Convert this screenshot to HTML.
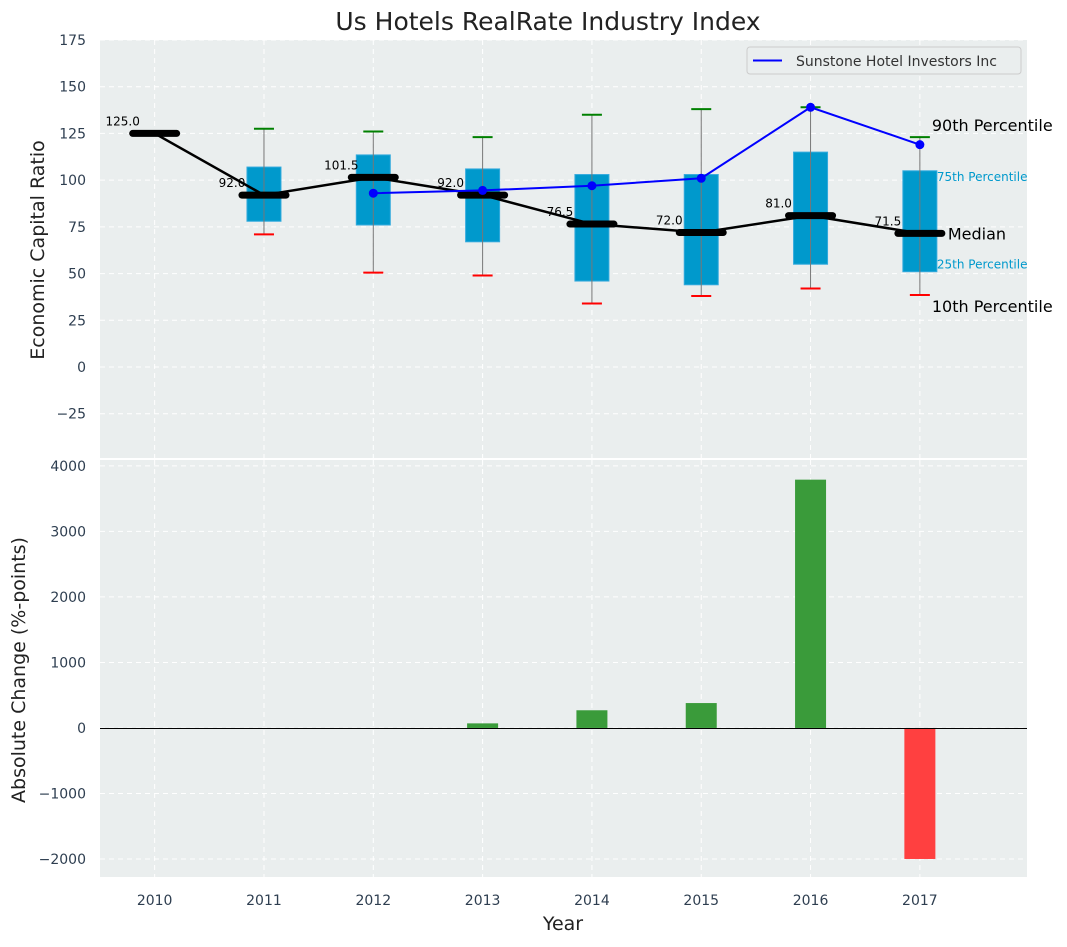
<!DOCTYPE html>
<html><head><meta charset="utf-8"><style>
body{margin:0;background:#fff;font-family:"Liberation Sans","DejaVu Sans",sans-serif;}
svg text{font-family:"DejaVu Sans","Liberation Sans",sans-serif;}
</style></head><body>
<svg id="c" width="1067" height="942" xmlns="http://www.w3.org/2000/svg"></svg>
<script>
const years=[2010,2011,2012,2013,2014,2015,2016,2017];
const medians=[125,92,101.5,92,76.5,72,81,71.5];
const p25=[null,78,76,67,46,44,55,51];
const p75=[null,107,113.5,106,103,103,115,105];
const p10=[null,71,50.5,49,34,38,42,38.5];
const p90=[null,127.5,126,123,135,138,139,123];
const sunYears=[2012,2013,2014,2015,2016,2017];
const sunVals=[93,94.5,97,101,139,119];
const barYears=[2013,2014,2015,2016,2017];
const barVals=[70,270,380,3790,-2000];
const topTicks=[-25,0,25,50,75,100,125,150,175];
const botTicks=[-2000,-1000,0,1000,2000,3000,4000];

const NS="http://www.w3.org/2000/svg";
const svg=document.getElementById('c');
function el(t,a,txt){const e=document.createElementNS(NS,t);for(const k in a)e.setAttribute(k,a[k]);if(txt!==undefined)e.textContent=txt;svg.appendChild(e);return e;}
const L=100,R=1027;
const x=v=>L+(v-2009.5)/(2017.98-2009.5)*(R-L);
const T0=40,T1=458,yT=v=>T0+(175-v)/(175-(-48.7))*(T1-T0);
const B0=460,B1=877,yB=v=>B0+(4090-v)/(4090-(-2275))*(B1-B0);

let e=el('rect',{x:L,y:T0,width:R-L,height:T1-T0,fill:'#eaeeee'});

e=el('rect',{x:L,y:B0,width:R-L,height:B1-B0,fill:'#eaeeee'});


years.forEach(yr=>{
  el('line',{x1:x(yr),x2:x(yr),y1:T0,y2:T1,stroke:'#fff','stroke-dasharray':'5,4','stroke-width':1});
  el('line',{x1:x(yr),x2:x(yr),y1:B0,y2:B1,stroke:'#fff','stroke-dasharray':'5,4','stroke-width':1});
  e=el('text',{x:x(yr),y:905,'text-anchor':'middle','font-size':14,fill:'#2e3e50'},yr);
  
});
topTicks.forEach(v=>{
  el('line',{x1:L,x2:R,y1:yT(v),y2:yT(v),stroke:'#fff','stroke-dasharray':'5,4'});
  e=el('text',{x:86,y:yT(v)+5,'text-anchor':'end','font-size':14,fill:'#2e3e50'},v<0?'\u2212'+(-v):v);
  
});
botTicks.forEach(v=>{
  el('line',{x1:L,x2:R,y1:yB(v),y2:yB(v),stroke:'#fff','stroke-dasharray':'5,4'});
  e=el('text',{x:86,y:yB(v)+5,'text-anchor':'end','font-size':14,fill:'#2e3e50'},v<0?'\u2212'+(-v):v);
  
});

years.forEach((yr,i)=>{
  const cx=x(yr);
  if(p25[i]!==null){
    e=el('rect',{x:cx-17,y:yT(p75[i]),width:34,height:yT(p25[i])-yT(p75[i]),fill:'#0099cc',stroke:'#33aadd','stroke-width':1});
    
    el('line',{x1:cx,x2:cx,y1:yT(p90[i]),y2:yT(p10[i]),stroke:'#777','stroke-width':1});
    el('line',{x1:cx-10,x2:cx+10,y1:yT(p90[i]),y2:yT(p90[i]),stroke:'green','stroke-width':2});
    el('line',{x1:cx-10,x2:cx+10,y1:yT(p10[i]),y2:yT(p10[i]),stroke:'red','stroke-width':2});
  }
});
e=el('polyline',{points:years.map((yr,i)=>x(yr)+','+yT(medians[i])).join(' '),fill:'none',stroke:'#000','stroke-width':2.5});

years.forEach((yr,i)=>{
  const cx=x(yr);
  e=el('line',{x1:cx-22,x2:cx+22,y1:yT(medians[i]),y2:yT(medians[i]),stroke:'#000','stroke-width':7,'stroke-linecap':'round'});
  
  e=el('text',{x:cx-32,y:yT(medians[i])-8,'text-anchor':'middle','font-size':12,fill:'#000'},medians[i].toFixed(1));
  
});
e=el('polyline',{points:sunYears.map((yr,i)=>x(yr)+','+yT(sunVals[i])).join(' '),fill:'none',stroke:'#0000ff','stroke-width':2});

sunYears.forEach((yr,i)=>{
  e=el('circle',{cx:x(yr),cy:yT(sunVals[i]),r:4.5,fill:'#0000ff'});
  
});
const lx=x(2017);
[['90th Percentile',p90[7],12,-6,16,'#000','percentile-90-label'],['75th Percentile',p75[7],17,10,12,'#0099cc','percentile-75-label'],['Median',medians[7],28,6,16,'#000','median-annotation'],['25th Percentile',p25[7],17,-3,12,'#0099cc','percentile-25-label'],['10th Percentile',p10[7],12,17,16,'#000','percentile-10-label']].forEach(a=>{
  e=el('text',{x:lx+a[2],y:yT(a[1])+a[3],'font-size':a[4],fill:a[5]},a[0]);
  
});
e=el('rect',{x:747,y:47,width:274,height:27,rx:3,fill:'#eaeeee',stroke:'#ccc'});

el('line',{x1:753,x2:782,y1:60.5,y2:60.5,stroke:'#0000ff','stroke-width':2});
e=el('text',{x:796,y:66,'font-size':14,fill:'#333'},'Sunstone Hotel Investors Inc');


barYears.forEach((yr,i)=>{
  const v=barVals[i],y1=yB(Math.max(v,0)),y2=yB(Math.min(v,0));
  e=el('rect',{x:x(yr)-15.5,y:y1,width:31,height:y2-y1,fill:v>=0?'#3a9b3a':'#ff4040'});
  
});
const z=Math.round(yB(0))+0.5;
e=el('line',{x1:L,x2:R,y1:z,y2:z,stroke:'#000','stroke-width':1});


e=el('text',{x:548,y:30,'text-anchor':'middle','font-size':25,fill:'#222'},'Us Hotels RealRate Industry Index');

e=el('text',{x:563,y:930,'text-anchor':'middle','font-size':19,fill:'#222'},'Year');

e=el('text',{x:44,y:250,'text-anchor':'middle','font-size':19,fill:'#222',transform:'rotate(-90 44 250)'},'Economic Capital Ratio');

e=el('text',{x:25,y:670,'text-anchor':'middle','font-size':19,fill:'#222',transform:'rotate(-90 25 670)'},'Absolute Change (%-points)');

</script>
</body></html>
